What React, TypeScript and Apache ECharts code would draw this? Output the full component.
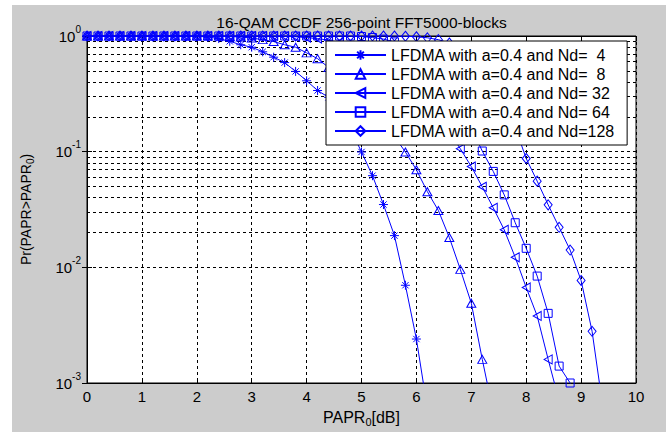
import React, { useEffect, useRef } from "react";
import * as echarts from "echarts";

// PAPR0 thresholds [dB]
const paprDb = [
  0, 0.2, 0.4, 0.6, 0.8, 1, 1.2, 1.4, 1.6, 1.8, 2, 2.2, 2.4, 2.6, 2.8, 3, 3.2, 3.4, 3.6, 3.8, 4, 4.2, 4.4,
  4.6, 4.8, 5, 5.2, 5.4, 5.6, 5.8, 6, 6.2, 6.4, 6.6, 6.8, 7, 7.2, 7.4, 7.6, 7.8, 8, 8.2, 8.4, 8.6, 8.8, 9,
  9.2, 9.4, 9.6, 9.8, 10,
];

// CCDF values, Pr(PAPR > PAPR0), one per threshold above
const ccdfNd4 = [
  1, 1, 1, 1, 1, 1, 1, 1, 1, 1,
  0.995, 0.98, 0.95, 0.9, 0.84, 0.8, 0.73, 0.656, 0.589, 0.494,
  0.41, 0.338, 0.295, 0.226, 0.157, 0.0994, 0.062, 0.0349, 0.0188, 0.007,
  0.0024, 0.0006,
];
const ccdfNd8 = [
  1, 1, 1, 1, 1, 1, 1, 1, 1, 1, 1, 1, 1,
  0.99, 0.98, 0.96, 0.93, 0.895, 0.84, 0.8, 0.715, 0.637, 0.535,
  0.457, 0.38, 0.3, 0.234, 0.178, 0.135, 0.0994, 0.0697, 0.0451, 0.031,
  0.0181, 0.0096, 0.0049, 0.0016, 0.00056,
];
const ccdfNd32 = [
  1, 1, 1, 1, 1, 1, 1, 1, 1, 1, 1, 1, 1, 1, 1, 1, 1, 1,
  0.995, 0.985, 0.97, 0.95, 0.92, 0.88, 0.81, 0.74, 0.66, 0.575,
  0.49, 0.41, 0.33, 0.263, 0.2, 0.148, 0.106, 0.0743, 0.0497, 0.0327,
  0.0211, 0.0122, 0.0067, 0.0038, 0.0016, 0.0007,
];
const ccdfNd64 = [
  1, 1, 1, 1, 1, 1, 1, 1, 1, 1, 1, 1, 1, 1, 1, 1, 1, 1, 1, 1, 1, 1, 1, 1, 1,
  0.99, 0.97, 0.94, 0.89, 0.82, 0.72, 0.6, 0.48, 0.36, 0.25,
  0.16, 0.1013, 0.0675, 0.0423, 0.0243, 0.0146, 0.0084, 0.004, 0.0014, 0.001,
  0.0001,
];
const ccdfNd128 = [
  1, 1, 1, 1, 1, 1, 1, 1, 1, 1, 1, 1, 1, 1, 1, 1, 1, 1, 1, 1, 1, 1, 1, 1, 1, 1, 1, 1, 1,
  0.995, 0.985, 0.965, 0.93, 0.87, 0.78, 0.66, 0.52, 0.38, 0.255,
  0.162, 0.0873, 0.0556, 0.0347, 0.0222, 0.0141, 0.0077, 0.0028, 0.0006,
];

const seriesNames = [
  "LFDMA with a=0.4 and Nd=  4",
  "LFDMA with a=0.4 and Nd=  8",
  "LFDMA with a=0.4 and Nd= 32",
  "LFDMA with a=0.4 and Nd= 64",
  "LFDMA with a=0.4 and Nd=128",
];
const curves = [ccdfNd4, ccdfNd8, ccdfNd32, ccdfNd64, ccdfNd128];

// log-spaced minor grid lines (2..9 x 10^k)
const minorGridValues = [
  0.002, 0.003, 0.004, 0.005, 0.006, 0.007, 0.008, 0.009,
  0.02, 0.03, 0.04, 0.05, 0.06, 0.07, 0.08, 0.09,
  0.2, 0.3, 0.4, 0.5, 0.6, 0.7, 0.8, 0.9,
];

const titleText = "16-QAM CCDF 256-point FFT5000-blocks";

export default function App() {
  const ref = useRef<HTMLDivElement>(null);

  useEffect(() => {
    if (!ref.current) return;
    const chart = echarts.init(ref.current, undefined, { renderer: "svg" });
    const font = "'Liberation Sans', Arial, Helvetica, sans-serif";
    const blue = "#0000ff";
    const dash = [3, 3];

    const symbols = [
      "path://M0,-10L0,10M-10,0L10,0M-7,-7L7,7M-7,7L7,-7",
      "triangle",
      "path://M10,0L0,5L10,10Z",
      "rect",
      "diamond",
    ];
    const sizes = [
      [9, 9],
      [9, 8],
      [8, 9],
      [8, 8],
      [8, 10],
    ];

    const dataSeries: any[] = curves.map((vals, k) => ({
      name: seriesNames[k],
      type: "line",
      data: vals.map((v, i) => [paprDb[i], v]),
      symbol: symbols[k],
      symbolSize: sizes[k],
      showAllSymbol: true,
      clip: true,
      z: 3,
      lineStyle: { color: blue, width: 1 },
      itemStyle: { color: "rgba(0,0,0,0)", borderColor: blue, borderWidth: 1 },
      emphasis: { disabled: true },
    }));

    const gridSeries = {
      type: "line",
      name: "minor-grid",
      data: [],
      silent: true,
      z: 1,
      markLine: {
        silent: true,
        z: 1,
        symbol: ["none", "none"],
        label: { show: false },
        lineStyle: { color: "#000", type: dash, width: 1 },
        emphasis: { disabled: true },
        data: minorGridValues.map((v) => ({ yAxis: v })),
      },
    };

    const labelFont = { fontFamily: font, color: "#000" };

    chart.setOption({
      animation: false,
      title: {
        text: titleText,
        left: 361.5,
        top: 14,
        textAlign: "center",
        padding: 0,
        textStyle: { fontSize: 15.5, fontWeight: "normal", color: "#000", fontFamily: font },
      },
      legend: {
        data: seriesNames,
        orient: "vertical",
        left: 326,
        top: 41,
        padding: [6, 12, 6, 8],
        itemGap: 3,
        itemWidth: 51,
        itemHeight: 12,
        backgroundColor: "#fff",
        borderColor: "#000",
        borderWidth: 1,
        borderRadius: 0,
        selectedMode: false,
        z: 10,
        textStyle: { fontSize: 16, fontFamily: font, color: "#000" },
      },
      grid: {
        left: 87,
        top: 36,
        width: 549,
        height: 356,
        show: true,
        backgroundColor: "#fff",
        borderColor: "#000",
        borderWidth: 1,
      },
      xAxis: [
        {
          type: "value",
          min: 0,
          max: 10,
          interval: 1,
          position: "bottom",
          axisLine: { show: true, lineStyle: { color: "#000" } },
          axisTick: { show: true, inside: true, length: 5, lineStyle: { color: "#000" } },
          axisLabel: { fontSize: 15, margin: 6, ...labelFont },
          splitLine: { show: true, lineStyle: { color: "#000", type: dash } },
          name: "{a|PAPR}{s|0}{a|[dB]}",
          nameLocation: "middle",
          nameGap: 25,
          nameTextStyle: {
            rich: {
              a: { fontSize: 16, ...labelFont },
              s: { fontSize: 11, padding: [8, 0, 0, 0], ...labelFont },
            },
          },
        },
        {
          type: "value",
          min: 0,
          max: 10,
          interval: 1,
          position: "top",
          axisLine: { show: true, lineStyle: { color: "#000" } },
          axisTick: { show: true, inside: true, length: 5, lineStyle: { color: "#000" } },
          axisLabel: { show: false },
          splitLine: { show: false },
        },
      ],
      yAxis: [
        {
          type: "log",
          logBase: 10,
          min: 0.001,
          max: 1,
          position: "left",
          axisLine: { show: true, lineStyle: { color: "#000" } },
          axisTick: { show: true, inside: true, length: 5, lineStyle: { color: "#000" } },
          axisLabel: {
            margin: 6,
            formatter: (v: number) => `{a|10}{b|${Math.round(Math.log10(v))}}`,
            rich: {
              a: { fontSize: 15, ...labelFont },
              b: { fontSize: 10, padding: [0, 0, 14, 0], ...labelFont },
            },
          },
          splitLine: { show: true, lineStyle: { color: "#000", type: dash } },
          name: "{a|Pr(PAPR>PAPR}{s|0}{a|)}",
          nameLocation: "middle",
          nameRotate: 90,
          nameGap: 52,
          nameTextStyle: {
            rich: {
              a: { fontSize: 14, ...labelFont },
              s: { fontSize: 10, padding: [8, 0, 0, 0], ...labelFont },
            },
          },
        },
        {
          type: "log",
          logBase: 10,
          min: 0.001,
          max: 1,
          position: "right",
          axisLine: { show: true, lineStyle: { color: "#000" } },
          axisTick: { show: true, inside: true, length: 5, lineStyle: { color: "#000" } },
          axisLabel: { show: false },
          splitLine: { show: false },
        },
      ],
      series: [gridSeries, ...dataSeries],
    });

    return () => {
      chart.dispose();
    };
  }, []);

  return (
    <div style={{ position: "absolute", left: 0, top: 0, width: 666, height: 432, background: "#fff" }}>
      <div
        style={{
          position: "absolute",
          left: 12,
          top: 5,
          width: 654,
          height: 427,
          background: "#cccccc",
        }}
      />
      <div ref={ref} style={{ position: "absolute", left: 0, top: 0, width: 666, height: 432 }} />
    </div>
  );
}
